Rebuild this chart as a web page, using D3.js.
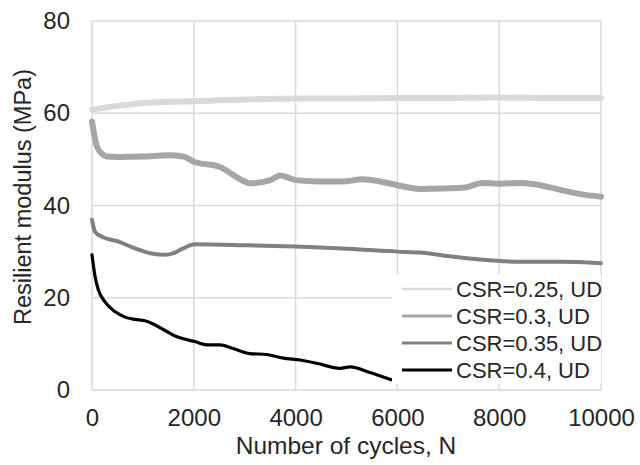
<!DOCTYPE html>
<meta charset="utf-8">
<style>
body { margin: 0; background: #fff; }
text { font-family: "Liberation Sans", Arial, sans-serif; fill: #262626; }
.grid line { stroke: #d9d9d9; stroke-width: 1.5px; }
</style>
<body>
<script src="https://d3js.org/d3.v7.min.js"></script>
<script>
var width = 640, height = 465;

var xTicks = [0, 2000, 4000, 6000, 8000, 10000];
var yTicks = [0, 20, 40, 60, 80];
var seriesNames = ["CSR=0.25, UD", "CSR=0.3, UD", "CSR=0.35, UD", "CSR=0.4, UD"];
var seriesColors = ["#d9d9d9", "#a6a6a6", "#808080", "#000000"];

// CSR=0.25
var n025 = [0, 250, 500, 750, 1000, 1500, 2000, 2500, 3000, 3500, 4000, 5000, 6000, 7000, 8000, 9000, 10000];
var v025 = [60.8, 61.2, 61.6, 61.9, 62.2, 62.5, 62.6, 62.8, 63.0, 63.1, 63.2, 63.2, 63.3, 63.3, 63.4, 63.3, 63.3];
// CSR=0.3
var n03 = [0, 50, 100, 200, 300, 500, 1000, 1500, 1800, 2000, 2500, 3000, 3100, 3500, 3700, 4000, 4480, 4930, 5320, 5660, 6000, 6440, 6935, 7330, 7660, 8000, 8410, 8700, 9200, 9690, 10000];
var v03 = [58.2, 55.0, 52.7, 51.2, 50.6, 50.5, 50.6, 50.9, 50.6, 49.5, 48.4, 45.2, 44.8, 45.5, 46.5, 45.5, 45.2, 45.2, 45.7, 45.2, 44.4, 43.6, 43.7, 43.9, 44.9, 44.7, 44.9, 44.6, 43.4, 42.3, 41.9];
// CSR=0.35
var n035 = [0, 60, 200, 510, 845, 1170, 1435, 1630, 1790, 2020, 3000, 4000, 4480, 5200, 6000, 6440, 7030, 7620, 8400, 9200, 10000];
var v035 = [36.9, 34.3, 33.2, 32.2, 30.7, 29.6, 29.3, 29.8, 30.7, 31.6, 31.4, 31.1, 30.9, 30.5, 30.0, 29.8, 29.0, 28.3, 27.8, 27.8, 27.5];
// CSR=0.4
var n04 = [0, 60, 125, 255, 450, 650, 845, 1040, 1240, 1435, 1630, 1830, 2020, 2250, 2515, 2770, 3100, 3430, 3760, 4090, 4415, 4870, 5070, 5460, 5880];
var v04 = [29.3, 24.6, 21.7, 19.1, 17.0, 15.8, 15.3, 15.0, 14.1, 12.9, 11.7, 11.0, 10.5, 9.8, 9.8, 9.0, 7.9, 7.7, 6.9, 6.5, 5.8, 4.7, 5.0, 3.8, 2.2];

var series = [
  {x: n025, y: v025, w: 6},
  {x: n03, y: v03, w: 6},
  {x: n035, y: v035, w: 4},
  {x: n04, y: v04, w: 3.2}
];

var svg = d3.select("body").append("svg")
    .attr("width", width)
    .attr("height", height);

var x = d3.scaleLinear().domain([0, 10000]).range([92, 601]);
var y = d3.scaleLinear().domain([0, 80]).range([390, 21]);

// gridlines
var grid = svg.append("g").attr("class", "grid");
grid.selectAll(".gx").data(xTicks).enter().append("line")
    .attr("x1", function(d) { return x(d); })
    .attr("x2", function(d) { return x(d); })
    .attr("y1", y(0)).attr("y2", y(80));
grid.selectAll(".gy").data(yTicks).enter().append("line")
    .attr("y1", function(d) { return y(d); })
    .attr("y2", function(d) { return y(d); })
    .attr("x1", x(0)).attr("x2", x(10000));

// lines
var line = d3.line()
    .x(function(d) { return x(d[0]); })
    .y(function(d) { return y(d[1]); })
    .curve(d3.curveMonotoneX);

series.forEach(function(s, i) {
  var pts = s.x.map(function(n, j) { return [n, s.y[j]]; });
  svg.append("path")
    .datum(pts)
    .attr("d", line)
    .attr("fill", "none")
    .attr("stroke", seriesColors[i])
    .attr("stroke-width", s.w)
    .attr("stroke-linejoin", "round")
    .attr("stroke-linecap", "round");
});

// axes labels
var xAxis = d3.axisBottom(x).tickValues(xTicks).tickFormat(d3.format("d")).tickSize(0).tickPadding(0);
var gx = svg.append("g").attr("transform", "translate(0,409)").call(xAxis);
gx.select(".domain").remove();
gx.selectAll("text").attr("font-size", "24px").attr("dy", "0.71em").style("font-family", null);

var yAxis = d3.axisLeft(y).tickValues(yTicks).tickSize(0).tickPadding(0);
var gy = svg.append("g").attr("transform", "translate(70,0)").call(yAxis);
gy.select(".domain").remove();
gy.selectAll("text").attr("font-size", "24px").style("font-family", null);

svg.append("text")
    .attr("x", 346)
    .attr("y", 454)
    .attr("text-anchor", "middle")
    .attr("font-size", "24.5px")
    .text("Number of cycles, N");

svg.append("text")
    .attr("transform", "translate(31,197) rotate(-90)")
    .attr("text-anchor", "middle")
    .attr("font-size", "23.5px")
    .text("Resilient modulus (MPa)");

// legend
var legend = svg.append("g");
legend.append("rect")
    .attr("x", 392).attr("y", 274)
    .attr("width", 209).attr("height", 110)
    .attr("fill", "#fff");
var rowY = [289, 316, 343, 370];
var legendW = [2.5, 3, 3, 3];
seriesNames.forEach(function(name, i) {
  legend.append("line")
    .attr("x1", 402).attr("x2", 452)
    .attr("y1", rowY[i]).attr("y2", rowY[i])
    .attr("stroke", seriesColors[i])
    .attr("stroke-width", legendW[i]);
  legend.append("text")
    .attr("x", 456)
    .attr("y", rowY[i])
    .attr("dy", "0.36em")
    .attr("font-size", "22px")
    .text(name);
});
</script>
</body>
